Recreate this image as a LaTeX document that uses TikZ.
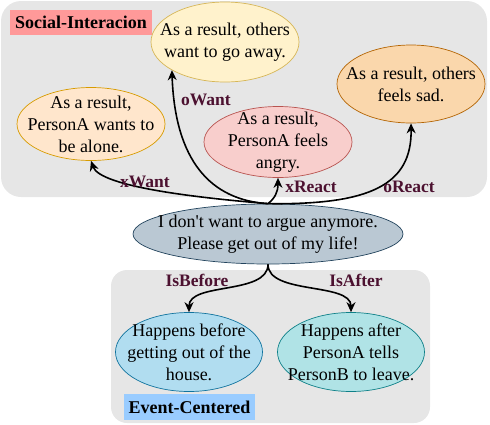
\documentclass[tikz,border=0pt]{standalone}
\usepackage{fontspec}
\setmainfont{Liberation Serif}
\usetikzlibrary{shapes.geometric,arrows.meta}
\definecolor{grayfill}{HTML}{E6E6E6}
\definecolor{lblcol}{HTML}{4C1130}
\definecolor{sociallbl}{HTML}{FF9999}
\definecolor{eventlbl}{HTML}{99CCFF}
\definecolor{owF}{HTML}{FFF2CC}\definecolor{owD}{HTML}{D6B656}
\definecolor{xwF}{HTML}{FFE6CC}\definecolor{xwD}{HTML}{D79B00}
\definecolor{xrF}{HTML}{F8CECC}\definecolor{xrD}{HTML}{B85450}
\definecolor{orF}{HTML}{FAD7AC}\definecolor{orD}{HTML}{B46504}
\definecolor{mnF}{HTML}{BAC8D3}\definecolor{mnD}{HTML}{23445D}
\definecolor{ibF}{HTML}{B1DDF0}\definecolor{ibD}{HTML}{10739E}
\definecolor{iaF}{HTML}{B0E3E6}\definecolor{iaD}{HTML}{0E8088}
\begin{document}
\begin{tikzpicture}[x=1pt,y=-1pt,
  ell/.style={ellipse, line width=0.7pt, inner sep=0pt},
  etext/.style={label={[align=center, inner sep=0pt, font=\fontsize{18}{22}\selectfont]center:#1}},
  rel/.style={line width=1.6pt, -{Stealth[length=10pt,width=9pt]}},
  rlabel/.style={font=\fontsize{17.5}{20}\selectfont\bfseries, text=lblcol, inner sep=0pt},
  tag/.style={font=\fontsize{18}{20}\selectfont\bfseries, inner sep=0pt, anchor=center}]
\useasboundingbox (0,0) rectangle (490,424);
% group boxes
\fill[grayfill, rounded corners=20pt] (1,1) rectangle (487,197);
\fill[grayfill, rounded corners=16pt] (111,270) rectangle (430,423);
% tags
\node[tag, fill=sociallbl, minimum width=142pt, minimum height=25pt] (soc) at (81,22.5) {Social-Interacion};
\node[tag, fill=eventlbl, minimum width=131pt, minimum height=26pt] (evt) at (189.5,407) {Event-Centered};
% nodes
\node[ell, fill=owF, draw=owD, minimum width=148pt, minimum height=80pt,
  etext={As a result, others\\want to go away.}] (oWant) at (225,42) {};
\node[ell, fill=xwF, draw=xwD, minimum width=148pt, minimum height=73pt,
  etext={As a result,\\PersonA wants to\\be alone.}] (xWant) at (91,124) {};
\node[ell, fill=xrF, draw=xrD, minimum width=148pt, minimum height=71pt,
  etext={As a result,\\PersonA feels\\angry.}] (xReact) at (278,142) {};
\node[ell, fill=orF, draw=orD, minimum width=148pt, minimum height=78pt,
  etext={As a result, others\\feels sad.}] (oReact) at (411,84) {};
\node[ell, fill=mnF, draw=mnD, minimum width=270pt, minimum height=60pt,
  etext={I don\textquotesingle t want to argue anymore.\\Please get out of my life!}] (main) at (268,234) {};
\node[ell, fill=ibF, draw=ibD, minimum width=147pt, minimum height=79pt,
  etext={Happens before\\getting out of the\\house.}] (before) at (189,352) {};
\node[ell, fill=iaF, draw=iaD, minimum width=147pt, minimum height=79pt,
  etext={Happens after\\PersonA tells\\PersonB to leave.}] (after) at (351,352) {};
% connectors
\draw[rel] (main.north) .. controls (200,198) and (100,187) .. (xWant.south);
\draw[rel] (main.north) .. controls (210,200) and (175,160) .. (oWant.208);
\draw[rel] (main.north) .. controls (275,198) and (278,192) .. (xReact.south);
\draw[rel] (main.north) .. controls (370,205) and (412,185) .. (oReact.south);
\draw[rel] (main.south) .. controls (268,295) and (189,282) .. (before.north);
\draw[rel] (main.south) .. controls (268,295) and (351,282) .. (after.north);
% labels
\node[rlabel] (lxw) at (145,182) {xWant};
\node[rlabel] (low) at (206,100) {oWant};
\node[rlabel] (lxr) at (311,187) {xReact};
\node[rlabel] (lor) at (409,187) {oReact};
\node[rlabel] (lib) at (197,280) {IsBefore};
\node[rlabel] (lia) at (356,280) {IsAfter};
\end{tikzpicture}
\end{document}
